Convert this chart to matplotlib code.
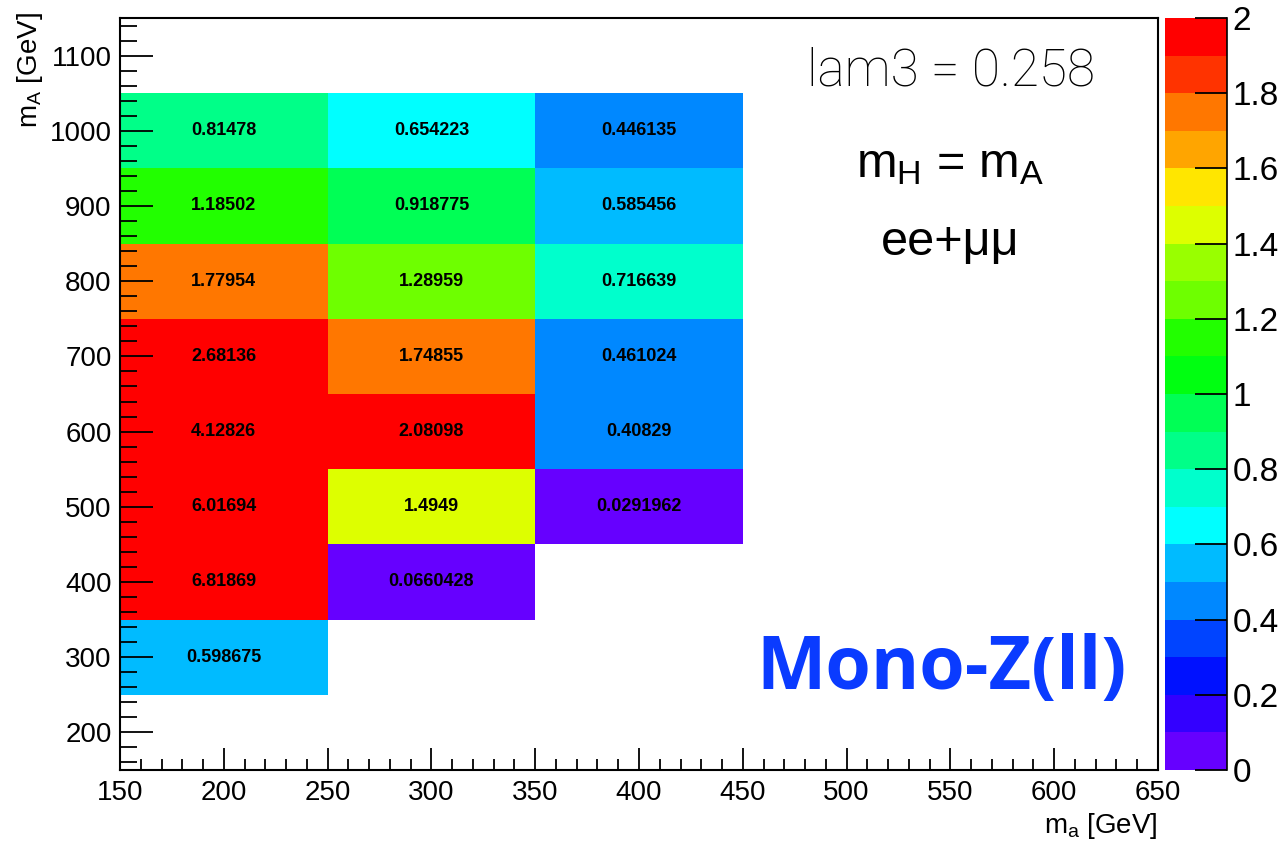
import numpy as np
import matplotlib
matplotlib.use("Agg")
from matplotlib import pyplot as plt
from matplotlib.colors import ListedColormap, BoundaryNorm
from matplotlib.ticker import MultipleLocator

# bins of the 2D histogram
x_edges = [150, 250, 350, 450]
y_edges = [250, 350, 450, 550, 650, 750, 850, 950, 1050]

# values per column (m_a = 200, 300, 400), rows from m_A = 300 up to 1000
col_200 = [0.598675, 6.81869, 6.01694, 4.12826, 2.68136, 1.77954, 1.18502, 0.81478]
col_300 = [np.nan, 0.0660428, 1.4949, 2.08098, 1.74855, 1.28959, 0.918775, 0.654223]
col_400 = [np.nan, np.nan, 0.0291962, 0.40829, 0.461024, 0.716639, 0.585456, 0.446135]

palette = ['#6600ff', '#3300ff', '#0011ff', '#0044ff', '#0088ff',
           '#00bbff', '#00ffff', '#00ffcc', '#00ff88', '#00ff55',
           '#00ff11', '#22ff00', '#6eff00', '#99ff00', '#ddff00',
           '#ffe600', '#ffa500', '#ff7700', '#ff3300', '#ff0000']
levels = np.linspace(0, 2, 21)
cb_ticks = [0, 0.2, 0.4, 0.6, 0.8, 1, 1.2, 1.4, 1.6, 1.8, 2]

plt.rcParams['font.family'] = ['Liberation Sans', 'DejaVu Sans']
plt.rcParams['mathtext.fontset'] = 'custom'
plt.rcParams['mathtext.rm'] = 'Liberation Sans'
plt.rcParams['mathtext.it'] = 'Liberation Sans'

cmap = ListedColormap(palette)
cmap.set_over('#ff0000')
norm = BoundaryNorm(levels, cmap.N)

Z = np.array([col_200, col_300, col_400]).T  # rows = y, cols = x

fig = plt.figure(figsize=(12.88, 8.43), dpi=100)
ax = fig.add_axes([120/1288, 73/843, 1038/1288, 752/843])
ax.pcolormesh(x_edges, y_edges, np.ma.masked_invalid(Z), cmap=cmap, norm=norm)

xc = [(x_edges[i] + x_edges[i+1]) / 2 for i in range(len(x_edges)-1)]
yc = [(y_edges[j] + y_edges[j+1]) / 2 for j in range(len(y_edges)-1)]
for j in range(Z.shape[0]):
    for i in range(Z.shape[1]):
        if not np.isnan(Z[j, i]):
            ax.text(xc[i], yc[j], f"{Z[j, i]:g}", ha='center', va='center',
                    fontsize=13, fontweight='bold', color='black')

ax.set_xlim(150, 650)
ax.set_ylim(150, 1150)
ax.xaxis.set_major_locator(MultipleLocator(50))
ax.xaxis.set_minor_locator(MultipleLocator(10))
ax.yaxis.set_major_locator(MultipleLocator(100))
ax.yaxis.set_minor_locator(MultipleLocator(20))
ax.tick_params(axis='x', which='major', direction='in', length=16, width=1.3, labelsize=20, pad=7)
ax.tick_params(axis='x', which='minor', direction='in', length=8, width=1.3)
ax.tick_params(axis='y', which='major', direction='in', length=24, width=1.3, labelsize=20, pad=6)
ax.tick_params(axis='y', which='minor', direction='in', length=12, width=1.3)
for s in ax.spines.values():
    s.set_linewidth(1.5)

fig.text(1158/1288, 1 - 826/843, r"m$_\mathregular{a}$ [GeV]", ha='right', va='center', fontsize=20)
fig.text(30/1288, 1 - 12/843, r"m$_\mathregular{A}$ [GeV]", ha='center', va='top', rotation=90, fontsize=20)

# colour scale
cax = fig.add_axes([1165/1288, 73/843, 62/1288, 752/843])
cax.pcolormesh([0, 1], levels, np.array(levels[:-1] + 0.05).reshape(-1, 1), cmap=cmap, norm=norm)
cax.set_xlim(0, 1)
cax.set_ylim(0, 2)
cax.set_xticks([])
cax.yaxis.tick_right()
cax.set_yticks(cb_ticks)
cax.set_yticklabels([f"{t:g}" for t in cb_ticks])
cax.tick_params(axis='y', direction='in', length=23, width=1.3, labelsize=24, pad=4)
for k in ['left', 'top', 'bottom']:
    cax.spines[k].set_visible(False)
cax.spines['right'].set_linewidth(1.2)

fig.text(951/1288, 1 - 72/843, "lam3 = 0.258", ha='center', va='center',
         fontsize=37, family=['Roboto', 'Liberation Sans'], fontweight='light')
fig.text(950/1288, 1 - 165/843, r"m$_\mathregular{H}$ = m$_\mathregular{A}$", ha='center', va='center', fontsize=35)
fig.text(950/1288, 1 - 242/843, "ee+μμ", ha='center', va='center', fontsize=35)
fig.text(942/1288, 1 - 670/843, "Mono-Z(ll)", ha='center', va='center', fontsize=53,
         family=['Open Sans', 'DejaVu Sans'], fontweight='bold', color='#0a3bff')

fig.savefig("out.png", dpi=100)
